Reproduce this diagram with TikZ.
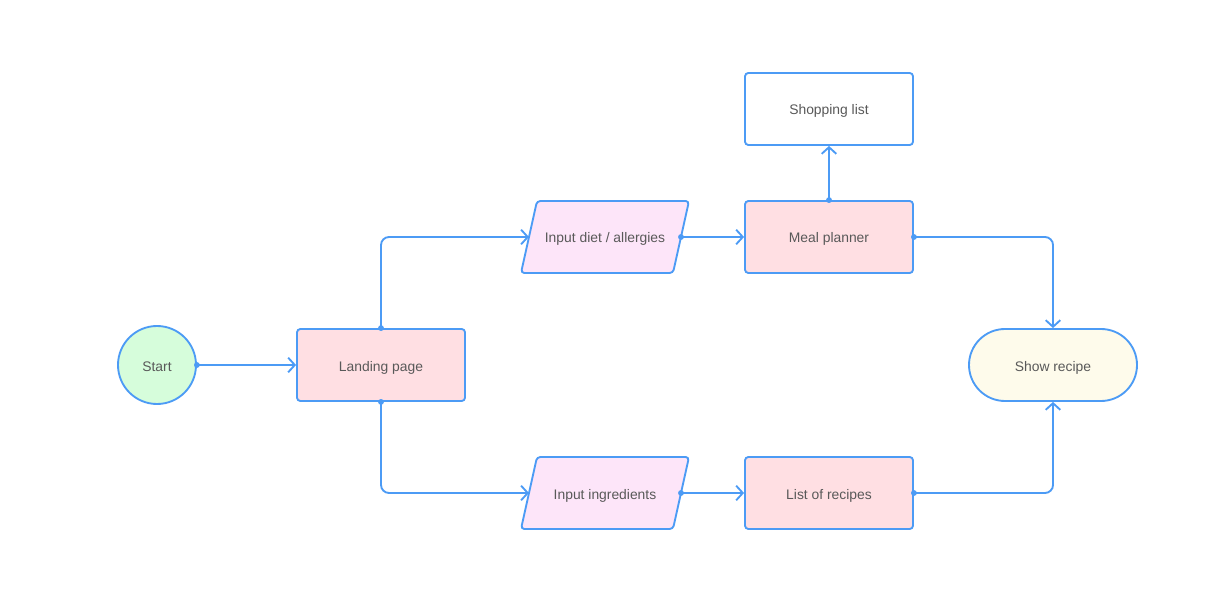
\documentclass[tikz,border=0pt]{standalone}
\usepackage{fontspec}
\setmainfont{Liberation Sans}
\usetikzlibrary{arrows.meta}
\definecolor{lblue}{HTML}{4C9BF5}
\definecolor{startfill}{HTML}{D6FDDB}
\definecolor{boxfill}{HTML}{FFDFE3}
\definecolor{parafill}{HTML}{FDE5F9}
\definecolor{endfill}{HTML}{FEFBEB}
\definecolor{txt}{HTML}{595959}
\tikzset{
  lbl/.style={text=txt, font=\fontsize{10.4pt}{12pt}\selectfont, text height=9pt, text depth=0pt},
  base/.style={lbl, draw=lblue, line width=1.4pt, align=center},
  boxnode/.style={base, rectangle, rounded corners=2.5pt, minimum width=126pt, minimum height=54pt, fill=boxfill},
  whitebox/.style={boxnode, fill=white},
  startnode/.style={base, circle, minimum size=58.5pt, inner sep=0pt, fill=startfill},
  endnode/.style={base, rectangle, rounded corners=27pt, minimum width=126pt, minimum height=54pt, fill=endfill},
  paralabel/.style={lbl},
  parashape/.style={draw=lblue, line width=1.4pt, fill=parafill, rounded corners=2.5pt, line join=round},
  conn/.style={draw=lblue, line width=1.4pt, rounded corners=6pt, -{Straight Barb[length=5pt,width=11pt,line width=1.4pt]}},
  dot/.style={fill=lblue}
}
\begin{document}
\begin{tikzpicture}[x=0.75pt,y=-0.75pt]
\useasboundingbox (0,0) rectangle (1210,602);
% nodes
\node[startnode] (start) at (157,365) {Start};
\node[boxnode] (landing) at (381,365) {Landing page};
\node[boxnode] (meal) at (829,237) {Meal planner};
\node[whitebox] (shop) at (829,109) {Shopping list};
\node[boxnode] (list) at (829,493) {List of recipes};
\node[endnode] (show) at (1053,365) {Show recipe};
% parallelograms
\draw[parashape] (537,201) -- (689,201) -- (673,273) -- (521,273) -- cycle;
\node[paralabel] (diet) at (605,237) {Input diet / allergies};
\coordinate (dietW) at (529,237);
\coordinate (dietE) at (681,237);
\draw[parashape] (537,457) -- (689,457) -- (673,529) -- (521,529) -- cycle;
\node[paralabel] (ingr) at (605,493) {Input ingredients};
\coordinate (ingrW) at (529,493);
\coordinate (ingrE) at (681,493);
% connectors
\draw[conn] (start.east) -- (landing.west);
\draw[conn] (landing.north) |- (dietW);
\draw[conn] (landing.south) |- (ingrW);
\draw[conn] (dietE) -- (meal.west);
\draw[conn] (ingrE) -- (list.west);
\draw[conn] (meal.north) -- (shop.south);
\draw[conn] (meal.east) -| (show.north);
\draw[conn] (list.east) -| (show.south);
% dots
\foreach \p in {start.east, landing.north, landing.south, dietE, ingrE, meal.north, meal.east, list.east}
  \fill[dot] (\p) circle (2.2pt);
\end{tikzpicture}
\end{document}
